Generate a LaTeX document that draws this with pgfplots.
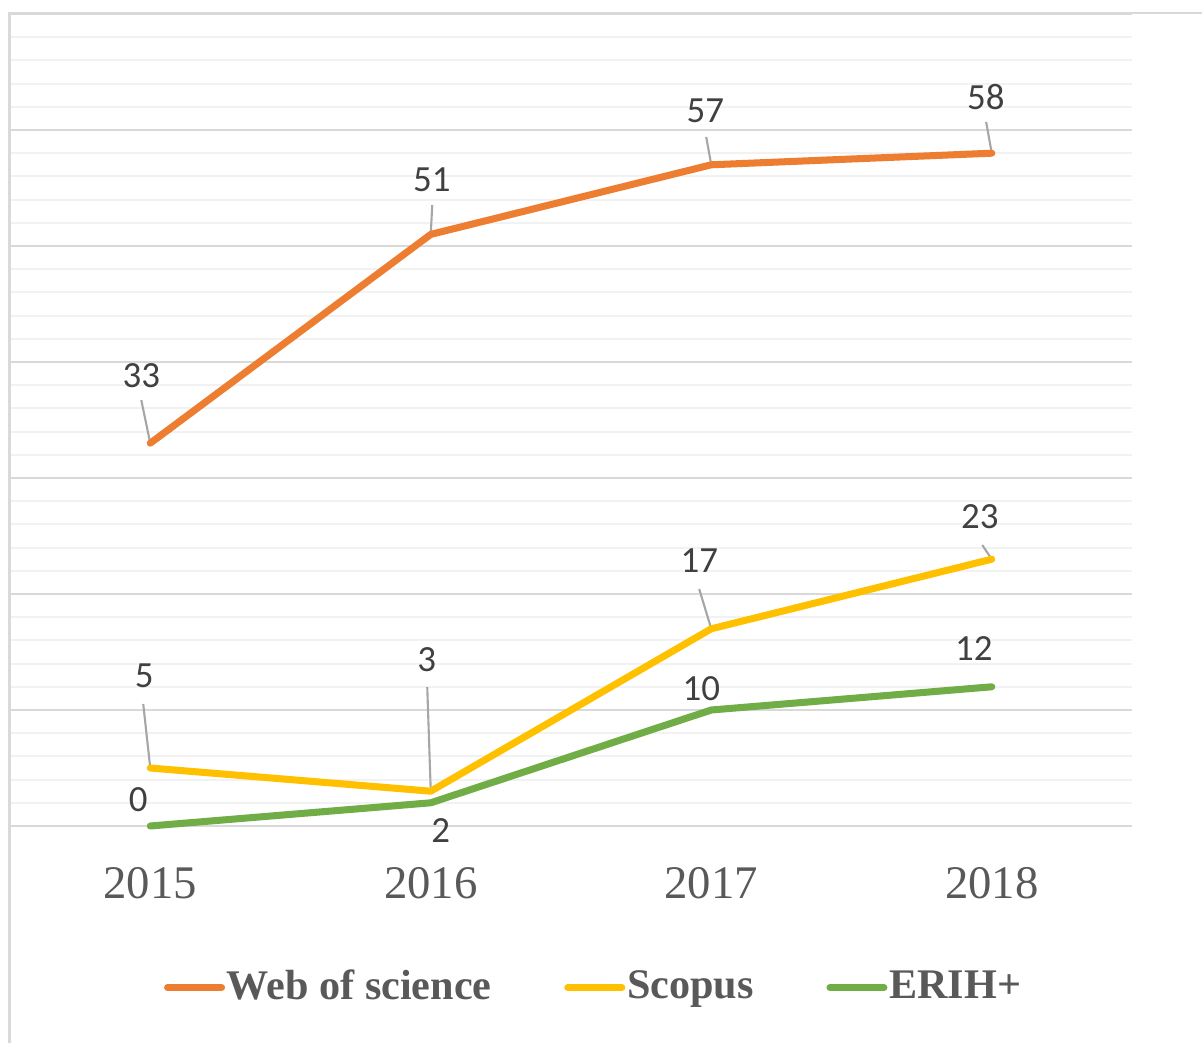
\documentclass[border=0pt]{standalone}
\usepackage{fontspec}
\setmainfont{Liberation Serif}
\newfontfamily\carlito{Carlito}
\usepackage{pgfplots}
\usepackage{pgfplotstable}
\pgfplotsset{compat=1.18}
\definecolor{cwos}{HTML}{ED7D31}
\definecolor{cscop}{HTML}{FFC000}
\definecolor{cerih}{HTML}{70AD47}
\definecolor{gmaj}{HTML}{D9D9D9}
\definecolor{gmin}{HTML}{F2F2F2}
\definecolor{txt}{HTML}{595959}
\definecolor{lbl}{HTML}{404040}
\definecolor{lead}{HTML}{A6A6A6}

\pgfplotstableread{
x y dx dy
0 33 -0.09 0.68
1 51 0.01 0.55
2 57 -0.06 0.54
3 58 -0.06 0.56
}\wos
\pgfplotstableread{
x y dx dy
0 5 -0.06 0.92
1 3 -0.04 1.32
2 17 -0.12 0.68
3 23 -0.12 0.43
}\scop
\pgfplotstableread{
x y dx dy
0 0 -0.12 0.26
1 2 0.10 -0.28
2 10 -0.10 0.21
3 12 -0.18 0.38
}\erih

\pgfplotsset{
  series/.style={line width=2pt, line cap=round, line join=round, no marks,
    visualization depends on={\thisrow{dx}\as\dx},
    visualization depends on={\thisrow{dy}\as\dy},
    nodes near coords,
    every node near coord/.append style={anchor=center, xshift=\dx cm, yshift=\dy cm,
      font=\carlito\fontsize{10.5}{12}\selectfont, text=lbl, inner sep=0pt}},
}

\begin{document}
\begin{tikzpicture}
\useasboundingbox (0,0) rectangle (12.02,10.43);
\begin{axis}[
  at={(0.10cm,2.17cm)}, anchor=south west,
  scale only axis, width=11.22cm, height=8.12cm,
  xmin=-0.5, xmax=3.5, ymin=0, ymax=70,
  clip=false,
  axis line style={draw=none},
  major tick length=0pt, minor tick length=0pt,
  ytick={0,10,...,70}, minor ytick={2,4,...,68},
  yticklabel={\relax}, yticklabel pos=right,
  yticklabel style={inner sep=0pt},
  ymajorgrids, yminorgrids,
  major grid style={gmaj, line width=0.6pt},
  minor grid style={gmin, line width=0.6pt},
  xtick={0,1,2,3}, xticklabels={2015,2016,2017,2018},
  xticklabel style={anchor=center, yshift=-0.57cm, text=txt, font=\fontsize{13.3}{15}\selectfont},
  /pgf/number format/assume math mode=true,
  legend columns=3,
  legend style={at={(0.520,-0.199)}, anchor=center, draw=none, fill=none,
    font=\bfseries\fontsize{12}{14}\selectfont, text=txt,
    nodes={inner sep=0.5pt},
    /tikz/every even column/.append style={column sep=0.71cm}},
  legend image code/.code={\draw[#1, line width=2pt, line cap=round] (0.035cm,0cm) -- (0.575cm,0cm);},
]
\addplot[forget plot, lead, line width=0.6pt, unbounded coords=jump, no marks]
 coordinates {
 (0,33) (-0.032,36.72) (nan,nan)
 (1,51) (1.0053,53.53) (nan,nan)
 (2,57) (1.982,59.40) (nan,nan)
 (3,58) (2.980,60.69) (nan,nan)
 (0,5) (-0.025,10.52) (nan,nan)
 (1,3) (0.9875,11.98) (nan,nan)
 (2,17) (1.957,20.43) (nan,nan)
 (3,23) (2.966,24.22)
 };
\addplot[cwos, series] table[x=x,y=y] {\wos};
\addlegendentry{Web of science}
\addplot[cscop, series] table[x=x,y=y] {\scop};
\addlegendentry{Scopus}
\addplot[cerih, series] table[x=x,y=y] {\erih};
\addlegendentry{ERIH+}
\end{axis}
\draw[gmaj, line width=0.75pt] (0.095,0) -- (0.095,10.30) -- (12.02,10.30);
\end{tikzpicture}
\end{document}
